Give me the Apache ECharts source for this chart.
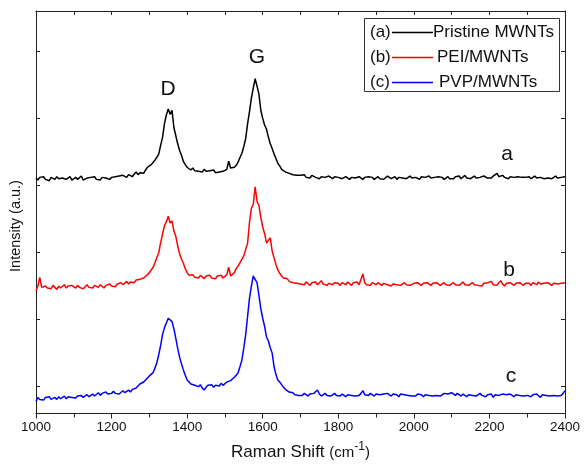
<!DOCTYPE html>
<html>
<head>
<meta charset="utf-8">
<script src="https://cdn.jsdelivr.net/npm/echarts@6/dist/echarts.min.js"></script>
<style>
  html, body { margin: 0; padding: 0; background: #fff; }
  #chart { width: 584px; height: 466px; }
</style>
</head>
<body>
<div id="chart"></div>
<script>
// Raman spectra of pristine and polymer-wrapped MWNTs, sampled every 5 cm^-1 from 1000 to 2400.
// Curves are vertically offset; one y unit equals one tick step.
const shiftStart = 1000;
const shiftStep = 5;

const pristine = [
  3.11,3.08,3.12,3.10,3.13,3.09,3.11,3.07,3.12,3.10,3.09,3.13,3.10,3.08,3.11,3.12,3.09,3.10,3.13,3.08,
  3.10,3.12,3.09,3.11,3.14,3.08,3.10,3.11,3.09,3.12,3.10,3.13,3.09,3.11,3.08,3.12,3.10,3.11,3.13,3.09,
  3.12,3.10,3.13,3.11,3.14,3.12,3.15,3.13,3.12,3.16,3.14,3.13,3.17,3.20,3.16,3.19,3.21,3.18,3.23,3.27,
  3.28,3.31,3.33,3.38,3.42,3.47,3.60,3.72,3.92,4.05,4.14,4.06,4.12,3.86,3.74,3.62,3.52,3.45,3.36,3.31,
  3.27,3.25,3.23,3.26,3.22,3.24,3.21,3.23,3.20,3.24,3.21,3.19,3.22,3.20,3.23,3.19,3.21,3.20,3.22,3.21,
  3.20,3.24,3.36,3.26,3.24,3.27,3.30,3.35,3.42,3.48,3.58,3.70,3.92,4.10,4.30,4.45,4.59,4.48,4.36,4.12,
  4.00,3.90,3.84,3.72,3.62,3.55,3.47,3.40,3.33,3.29,3.24,3.23,3.20,3.21,3.18,3.19,3.16,3.18,3.15,3.17,
  3.15,3.13,3.16,3.12,3.14,3.11,3.15,3.13,3.12,3.14,3.10,3.13,3.15,3.12,3.11,3.14,3.12,3.10,3.13,3.11,
  3.12,3.14,3.10,3.12,3.13,3.11,3.09,3.12,3.14,3.11,3.10,3.13,3.11,3.09,3.12,3.10,3.13,3.11,3.12,3.09,
  3.11,3.13,3.10,3.12,3.09,3.11,3.14,3.12,3.10,3.11,3.13,3.09,3.12,3.10,3.11,3.13,3.10,3.12,3.14,3.11,
  3.10,3.12,3.11,3.09,3.13,3.11,3.12,3.10,3.14,3.11,3.09,3.12,3.10,3.13,3.11,3.12,3.09,3.11,3.13,3.10,
  3.12,3.10,3.13,3.11,3.14,3.10,3.12,3.15,3.11,3.13,3.10,3.12,3.14,3.11,3.13,3.12,3.10,3.14,3.12,3.11,
  3.13,3.11,3.14,3.12,3.18,3.13,3.11,3.15,3.12,3.14,3.10,3.13,3.11,3.12,3.10,3.13,3.11,3.12,3.10,3.12,
  3.11,3.13,3.10,3.12,3.14,3.11,3.09,3.12,3.13,3.10,3.12,3.11,3.13,3.10,3.12,3.14,3.11,3.13,3.12,3.14,
  3.13
];

const pei = [
  1.43,1.50,1.63,1.48,1.46,1.50,1.47,1.49,1.46,1.51,1.48,1.45,1.50,1.47,1.49,1.52,1.47,1.50,1.48,1.51,
  1.49,1.47,1.51,1.48,1.50,1.46,1.49,1.52,1.48,1.50,1.47,1.51,1.49,1.48,1.52,1.50,1.47,1.51,1.49,1.53,
  1.50,1.52,1.49,1.53,1.51,1.55,1.52,1.54,1.57,1.53,1.56,1.58,1.55,1.59,1.57,1.60,1.58,1.62,1.64,1.67,
  1.70,1.74,1.78,1.85,1.93,2.00,2.15,2.28,2.40,2.46,2.54,2.44,2.47,2.32,2.24,2.10,1.98,1.90,1.84,1.76,
  1.70,1.66,1.64,1.67,1.63,1.65,1.62,1.66,1.64,1.61,1.65,1.63,1.66,1.62,1.64,1.61,1.65,1.63,1.66,1.62,
  1.64,1.67,1.78,1.65,1.66,1.70,1.76,1.80,1.85,1.90,1.95,2.05,2.14,2.45,2.66,2.72,2.98,2.76,2.70,2.52,
  2.38,2.28,2.14,2.18,2.22,2.02,1.92,1.82,1.74,1.69,1.65,1.62,1.60,1.61,1.57,1.58,1.55,1.57,1.54,1.56,
  1.53,1.55,1.52,1.56,1.54,1.51,1.55,1.53,1.56,1.52,1.54,1.58,1.53,1.55,1.51,1.54,1.56,1.52,1.55,1.53,
  1.54,1.51,1.55,1.53,1.52,1.56,1.54,1.51,1.55,1.53,1.56,1.52,1.54,1.68,1.55,1.52,1.54,1.51,1.55,1.53,
  1.52,1.55,1.53,1.51,1.54,1.56,1.52,1.54,1.50,1.53,1.55,1.52,1.54,1.51,1.53,1.55,1.52,1.54,1.51,1.53,
  1.54,1.52,1.55,1.53,1.51,1.54,1.52,1.55,1.53,1.51,1.54,1.52,1.55,1.53,1.51,1.53,1.55,1.52,1.54,1.51,
  1.53,1.55,1.52,1.54,1.51,1.53,1.56,1.52,1.54,1.51,1.53,1.55,1.52,1.54,1.51,1.53,1.50,1.54,1.52,1.55,
  1.53,1.57,1.52,1.54,1.51,1.55,1.58,1.53,1.50,1.54,1.52,1.55,1.53,1.51,1.54,1.52,1.55,1.53,1.51,1.54,
  1.52,1.54,1.51,1.55,1.53,1.52,1.56,1.53,1.51,1.54,1.52,1.55,1.53,1.51,1.54,1.52,1.53,1.51,1.54,1.56,
  1.55
];

const pvp = [
  -0.22,-0.16,-0.19,-0.17,-0.20,-0.16,-0.18,-0.15,-0.19,-0.17,-0.16,-0.19,-0.15,-0.18,-0.16,-0.14,-0.18,-0.15,-0.17,-0.16,
  -0.15,-0.17,-0.14,-0.16,-0.13,-0.16,-0.14,-0.12,-0.15,-0.13,-0.11,-0.14,-0.12,-0.09,-0.13,-0.10,-0.12,-0.08,-0.11,-0.09,
  -0.10,-0.07,-0.10,-0.08,-0.11,-0.09,-0.06,-0.09,-0.07,-0.05,-0.08,-0.04,-0.06,-0.02,0.00,0.04,0.02,0.07,0.10,0.13,
  0.16,0.18,0.21,0.28,0.36,0.48,0.62,0.78,0.88,0.95,1.02,1.04,0.97,0.86,0.72,0.57,0.44,0.34,0.25,0.17,
  0.10,0.07,0.04,0.06,0.02,0.04,0.00,0.03,-0.02,-0.05,-0.01,0.02,0.00,0.03,-0.01,0.02,0.04,0.01,0.05,0.02,
  0.04,0.07,0.05,0.09,0.11,0.14,0.17,0.21,0.30,0.40,0.58,0.78,1.05,1.32,1.50,1.65,1.60,1.55,1.36,1.16,
  1.02,0.90,0.74,0.68,0.58,0.50,0.30,0.18,0.10,0.07,0.03,-0.01,-0.04,-0.06,-0.08,-0.10,-0.09,-0.12,-0.10,-0.13,
  -0.11,-0.13,-0.10,-0.12,-0.14,-0.11,-0.13,-0.10,-0.12,-0.05,-0.11,-0.14,-0.12,-0.10,-0.13,-0.11,-0.14,-0.12,-0.10,-0.13,
  -0.12,-0.14,-0.11,-0.13,-0.15,-0.12,-0.10,-0.13,-0.11,-0.14,-0.12,-0.13,-0.10,-0.06,-0.12,-0.11,-0.13,-0.10,-0.12,-0.14,
  -0.11,-0.13,-0.12,-0.14,-0.11,-0.13,-0.10,-0.12,-0.14,-0.11,-0.13,-0.12,-0.15,-0.11,-0.13,-0.12,-0.10,-0.13,-0.11,-0.14,
  -0.12,-0.14,-0.11,-0.13,-0.12,-0.15,-0.12,-0.10,-0.13,-0.11,-0.14,-0.12,-0.13,-0.11,-0.14,-0.12,-0.10,-0.08,-0.11,-0.12,
  -0.09,-0.11,-0.13,-0.10,-0.12,-0.14,-0.11,-0.13,-0.15,-0.12,-0.10,-0.13,-0.11,-0.14,-0.12,-0.10,-0.13,-0.11,-0.15,-0.12,
  -0.14,-0.11,-0.16,-0.12,-0.10,-0.13,-0.15,-0.11,-0.13,-0.12,-0.14,-0.11,-0.13,-0.15,-0.12,-0.10,-0.13,-0.11,-0.14,-0.12,
  -0.13,-0.11,-0.15,-0.12,-0.14,-0.11,-0.13,-0.16,-0.12,-0.10,-0.13,-0.11,-0.14,-0.12,-0.13,-0.11,-0.14,-0.12,-0.13,-0.10,
  -0.06
];

const seriesNames = ['Pristine MWNTs', 'PEI/MWNTs', 'PVP/MWNTs'];
const seriesTags = ['(a)', '(b)', '(c)'];
const seriesColors = ['#000000', '#ff0000', '#0000ff'];
const curveLetters = ['a', 'b', 'c'];
const yTicks = [0, 1, 2, 3, 4, 5];

const FONT = '"Liberation Sans", Arial, Helvetica, sans-serif';
const toPairs = arr => arr.map((v, i) => [shiftStart + i * shiftStep, v]);

const chart = echarts.init(document.getElementById('chart'), null, { renderer: 'canvas' });

const axisLineStyle = { color: '#222', width: 1 };

const legendRows = [32, 57, 82];
const legendGraphics = [
  { type: 'rect', shape: { x: 364.5, y: 18.5, width: 195, height: 73 },
    style: { fill: '#fff', stroke: '#333', lineWidth: 1 }, z: 10 }
];
seriesNames.forEach((name, i) => {
  const y = legendRows[i];
  legendGraphics.push(
    { type: 'text', x: 370, y: y, z: 11,
      style: { text: seriesTags[i], font: '17px ' + FONT, fill: '#111', verticalAlign: 'middle' } },
    { type: 'line', z: 11, shape: { x1: 392, y1: y + 0.5, x2: 433, y2: y + 0.5 },
      style: { stroke: seriesColors[i], lineWidth: 1.3 } },
    { type: 'text', x: [433, 437, 439][i], y: y, z: 11,
      style: { text: name, font: '17px ' + FONT, fill: '#111', verticalAlign: 'middle' } }
  );
});

const annotations = [
  { text: 'D', x: 168, y: 89 },
  { text: 'G', x: 257, y: 57 },
  { text: curveLetters[0], x: 507, y: 154 },
  { text: curveLetters[1], x: 509, y: 270 },
  { text: curveLetters[2], x: 511, y: 376 }
].map(a => ({
  type: 'text', x: a.x, y: a.y, z: 11,
  style: { text: a.text, font: '21px ' + FONT, fill: '#111', align: 'center', verticalAlign: 'middle' }
}));

chart.setOption({
  animation: false,
  backgroundColor: '#fff',
  grid: { left: 36, right: 19, top: 11, bottom: 49, containLabel: false },
  xAxis: [
    {
      type: 'value', min: 1000, max: 2400, interval: 200, position: 'bottom',
      axisLine: { show: true, onZero: false, lineStyle: axisLineStyle },
      axisTick: { show: true, inside: false, length: 5, lineStyle: axisLineStyle },
      minorTick: { show: true, splitNumber: 2, length: 4, lineStyle: axisLineStyle },
      splitLine: { show: false },
      axisLabel: { fontSize: 13.5, color: '#111', fontFamily: FONT, margin: 7, formatter: v => String(v) },
      name: '{t|Raman Shift }{p|(cm}{s|-1}{p|)}',
      nameLocation: 'middle', nameGap: 27,
      nameTextStyle: {
        fontFamily: FONT, color: '#111',
        rich: {
          t: { fontSize: 17, fontFamily: FONT, color: '#111' },
          p: { fontSize: 15, fontFamily: FONT, color: '#111' },
          s: { fontSize: 12, fontFamily: FONT, color: '#111', padding: [0, 0, 12, 0] }
        }
      }
    },
    {
      type: 'value', min: 1000, max: 2400, interval: 100, position: 'top',
      axisLine: { show: true, onZero: false, lineStyle: axisLineStyle },
      axisTick: { show: true, inside: true, length: 4, lineStyle: axisLineStyle },
      axisLabel: { show: false },
      splitLine: { show: false }
    }
  ],
  yAxis: [
    {
      type: 'value', min: -0.4, max: 5.6, position: 'left',
      axisLine: { show: true, onZero: false, lineStyle: axisLineStyle },
      axisTick: { show: true, inside: true, length: 4, customValues: yTicks, lineStyle: axisLineStyle },
      axisLabel: { show: false },
      splitLine: { show: false }
    },
    {
      type: 'value', min: -0.4, max: 5.6, position: 'right',
      axisLine: { show: true, onZero: false, lineStyle: axisLineStyle },
      axisTick: { show: true, inside: true, length: 4, customValues: yTicks, lineStyle: axisLineStyle },
      axisLabel: { show: false },
      splitLine: { show: false }
    }
  ],
  series: [pristine, pei, pvp].map((values, i) => ({
    name: seriesNames[i],
    type: 'line',
    xAxisIndex: 0,
    yAxisIndex: 0,
    data: toPairs(values),
    showSymbol: false,
    symbol: 'none',
    lineStyle: { color: seriesColors[i], width: 1.5 },
    itemStyle: { color: seriesColors[i] },
    z: 3 - i
  })),
  graphic: [
    {
      type: 'text', x: 16, y: 226, rotation: Math.PI / 2,
      style: { text: 'Intensity (a.u.)', font: '14.5px ' + FONT, fill: '#111', align: 'center', verticalAlign: 'middle' }
    }
  ].concat(annotations, legendGraphics)
});
</script>
</body>
</html>
